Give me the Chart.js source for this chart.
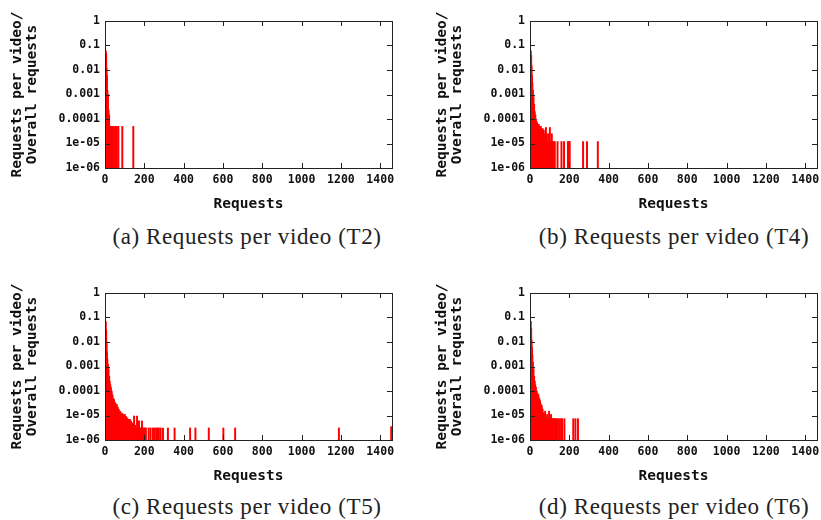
<!DOCTYPE html>
<html>
<head>
<meta charset="utf-8">
<script src="https://cdn.jsdelivr.net/npm/chart.js@4/dist/chart.umd.min.js"></script>
<style>
  body { margin:0; background:#fff; width:821px; height:520px; overflow:hidden; position:relative; }
  canvas { position:absolute; }
  .cap { position:absolute; width:400px; text-align:center; font-family:"Liberation Serif", serif;
         font-size:23px; line-height:28px; letter-spacing:0.6px; color:#222; }
</style>
</head>
<body>
<canvas id="t2" width="400" height="215" style="left:0;top:0"></canvas>
<canvas id="t4" width="400" height="215" style="left:425px;top:0"></canvas>
<canvas id="t5" width="400" height="215" style="left:0;top:272px"></canvas>
<canvas id="t6" width="400" height="215" style="left:425px;top:272px"></canvas>
<div class="cap" style="left:47px;top:223px">(a) Requests per video (T2)</div>
<div class="cap" style="left:474px;top:223px">(b) Requests per video (T4)</div>
<div class="cap" style="left:47px;top:493px">(c) Requests per video (T5)</div>
<div class="cap" style="left:474px;top:493px">(d) Requests per video (T6)</div>
<script>
// requests per video -> share of overall requests

const xTicks = [0, 200, 400, 600, 800, 1000, 1200, 1400];
const yTicks = [1, 0.1, 0.01, 0.001, 0.0001, 1e-5, 1e-6];
const yTickLabels = ['1', '0.1', '0.01', '0.001', '0.0001', '1e-05', '1e-06'];

// T2
const t2Req = [4, 6, 8, 10, 12, 15, 18, 21, 24, 27, 30, 33, 36, 42, 51, 60, 68, 88, 144];
const t2Share = [0.06, 0.045, 0.012, 0.006, 0.0015, 0.001, 0.00023, 0.00015, 5e-5, 5e-5, 5e-5, 5e-5, 5e-5,
  5e-5, 5e-5, 5e-5, 5e-5, 5e-5, 5e-5];

// T4
const t4Req = [4, 6, 8, 10, 12, 15, 18, 21, 24, 27, 30, 33, 36, 40, 45, 50, 55, 60, 65, 70, 75, 81, 86, 91,
  96, 101, 106, 111, 116, 121, 126, 140, 160, 173, 193, 197, 202, 270, 290, 345];
const t4Share = [0.06, 0.04, 0.015, 0.006, 0.003, 0.0015, 0.0008, 0.0004, 0.0002, 0.00015, 0.0001, 8e-5, 7e-5,
  6e-5, 6e-5, 5e-5, 5e-5, 4e-5, 4e-5, 3.5e-5, 2.5e-5, 4.5e-5, 2.5e-5, 1.2e-5,
  2.5e-5, 4.5e-5, 1.2e-5, 2.5e-5, 1.2e-5, 1.2e-5, 1.2e-5, 1.2e-5, 1.2e-5, 1.2e-5, 1.2e-5, 1.2e-5, 1.2e-5,
  1.2e-5, 1.2e-5, 1.2e-5];

// T5
const t5Req = [4, 6, 8, 10, 12, 15, 18, 21, 24, 27, 30, 34, 38, 42, 46, 50, 55, 60, 65, 70, 76, 82, 88, 94,
  101, 107, 113, 120, 126, 132, 138, 143, 148, 153, 158, 163, 168, 173, 178, 183, 188, 193, 198, 203, 208,
  222, 232, 244, 253, 261, 269, 274, 283, 295, 320, 354, 433, 460, 528, 602, 662, 1190, 1456];
const t5Share = [0.068, 0.03, 0.01, 0.004, 0.002, 0.0012, 0.0008, 0.0004, 0.00025, 0.00018, 0.00014, 0.0001,
  7e-5, 5e-5, 4.5e-5, 3.5e-5, 3e-5, 2.8e-5, 2.2e-5, 1.8e-5, 1.5e-5, 1.3e-5, 1.2e-5, 1.1e-5,
  1.1e-5, 9e-6, 8e-6, 7e-6, 7e-6, 6e-6, 5e-6, 4.4e-6, 9.5e-6, 4e-6, 3.1e-6, 9.5e-6, 3.1e-6, 6e-6, 3.1e-6,
  3.1e-6, 6e-6, 3.1e-6, 3.1e-6, 3.1e-6, 3.1e-6,
  3.1e-6, 3.1e-6, 3.1e-6, 3.1e-6, 3.1e-6, 3.1e-6, 3.1e-6, 3.1e-6, 3.1e-6, 3.1e-6, 3.1e-6, 3.1e-6, 3.1e-6,
  3.1e-6, 3.1e-6, 3.1e-6, 3.1e-6, 3.5e-6];

// T6
const t6Req = [4, 6, 8, 10, 12, 15, 18, 21, 24, 27, 30, 34, 38, 43, 47, 51, 55, 60, 64, 68, 72, 77, 82, 87,
  92, 97, 102, 107, 112, 117, 122, 127, 132, 137, 142, 150, 158, 163, 175, 220, 231, 244];
const t6Share = [0.07, 0.035, 0.012, 0.006, 0.003, 0.0015, 0.0008, 0.0004, 0.00025, 0.00018, 0.00014, 0.0001,
  8e-5, 7e-5, 5e-5, 4e-5, 3e-5, 2.5e-5, 1.8e-5, 1.3e-5, 1.1e-5, 1.5e-5, 7.4e-6, 1.1e-5,
  7.4e-6, 1.5e-5, 7.4e-6, 1.1e-5, 7.4e-6, 7.4e-6, 7.4e-6, 7.4e-6, 7.4e-6, 7.4e-6, 7.4e-6, 7.4e-6, 7.4e-6,
  7.4e-6, 7.4e-6, 7.4e-6, 7.4e-6, 7.4e-6];

const tickFont = { family: 'DejaVu Sans Mono', size: 11.5, weight: 'bold' };
const titleFont = { family: 'DejaVu Sans Mono', size: 14.5, weight: 'bold', lineHeight: 1.0 };

// gnuplot style box with inward ticks on all four sides
const frame = {
  id: 'frame',
  afterDatasetsDraw(chart) {
    const { ctx, chartArea: a, scales: { x, y } } = chart;
    ctx.save();
    ctx.strokeStyle = '#222';
    ctx.lineWidth = 1;
    ctx.strokeRect(a.left + 0.5, a.top + 0.5, Math.round(a.right - a.left), Math.round(a.bottom - a.top));
    ctx.beginPath();
    x.ticks.forEach(t => {
      const px = Math.round(x.getPixelForValue(t.value)) + 0.5;
      ctx.moveTo(px, a.bottom); ctx.lineTo(px, a.bottom - 5);
      ctx.moveTo(px, a.top); ctx.lineTo(px, a.top + 5);
    });
    y.ticks.forEach(t => {
      const py = Math.round(y.getPixelForValue(t.value)) + 0.5;
      ctx.moveTo(a.left, py); ctx.lineTo(a.left + 5, py);
      ctx.moveTo(a.right, py); ctx.lineTo(a.right - 5, py);
    });
    ctx.stroke();
    ctx.restore();
  }
};

function makeChart(id, req, share) {
  const points = req.map((r, i) => ({ x: r, y: share[i] }));
  return new Chart(document.getElementById(id), {
    type: 'bar',
    data: {
      datasets: [{
        data: points,
        backgroundColor: '#ff0000',
        borderWidth: 0,
        barThickness: 1.3
      }]
    },
    options: {
      responsive: false,
      animation: false,
      devicePixelRatio: 1,
      layout: { padding: { top: 21, right: 8, left: 0, bottom: 0 } },
      plugins: { legend: { display: false }, tooltip: { enabled: false } },
      scales: {
        x: {
          type: 'linear',
          min: 0,
          max: 1460,
          offset: false,
          grid: { display: false, drawTicks: false },
          border: { display: false },
          afterBuildTicks: s => { s.ticks = xTicks.map(v => ({ value: v })); },
          afterFit: s => { s.height = 47; },
          ticks: {
            font: tickFont, color: '#111', padding: 5, maxRotation: 0, autoSkip: false,
            callback: v => String(v)
          },
          title: { display: true, text: 'Requests', font: titleFont, color: '#111', padding: { top: 0, bottom: 4 } }
        },
        y: {
          type: 'logarithmic',
          min: 1e-6,
          max: 1,
          grid: { display: false, drawTicks: false },
          border: { display: false },
          afterBuildTicks: s => { s.ticks = yTicks.map(v => ({ value: v })); },
          afterFit: s => { s.width = 105; },
          ticks: {
            font: tickFont, color: '#111', padding: 5, autoSkip: false,
            callback: v => yTickLabels[yTicks.indexOf(v)]
          },
          title: {
            display: true, text: ['Requests per video/', 'Overall requests'],
            font: titleFont, color: '#111', padding: { top: 10, bottom: 0 }
          }
        }
      }
    },
    plugins: [frame]
  });
}

makeChart('t2', t2Req, t2Share);
makeChart('t4', t4Req, t4Share);
makeChart('t5', t5Req, t5Share);
makeChart('t6', t6Req, t6Share);
</script>
</body>
</html>
